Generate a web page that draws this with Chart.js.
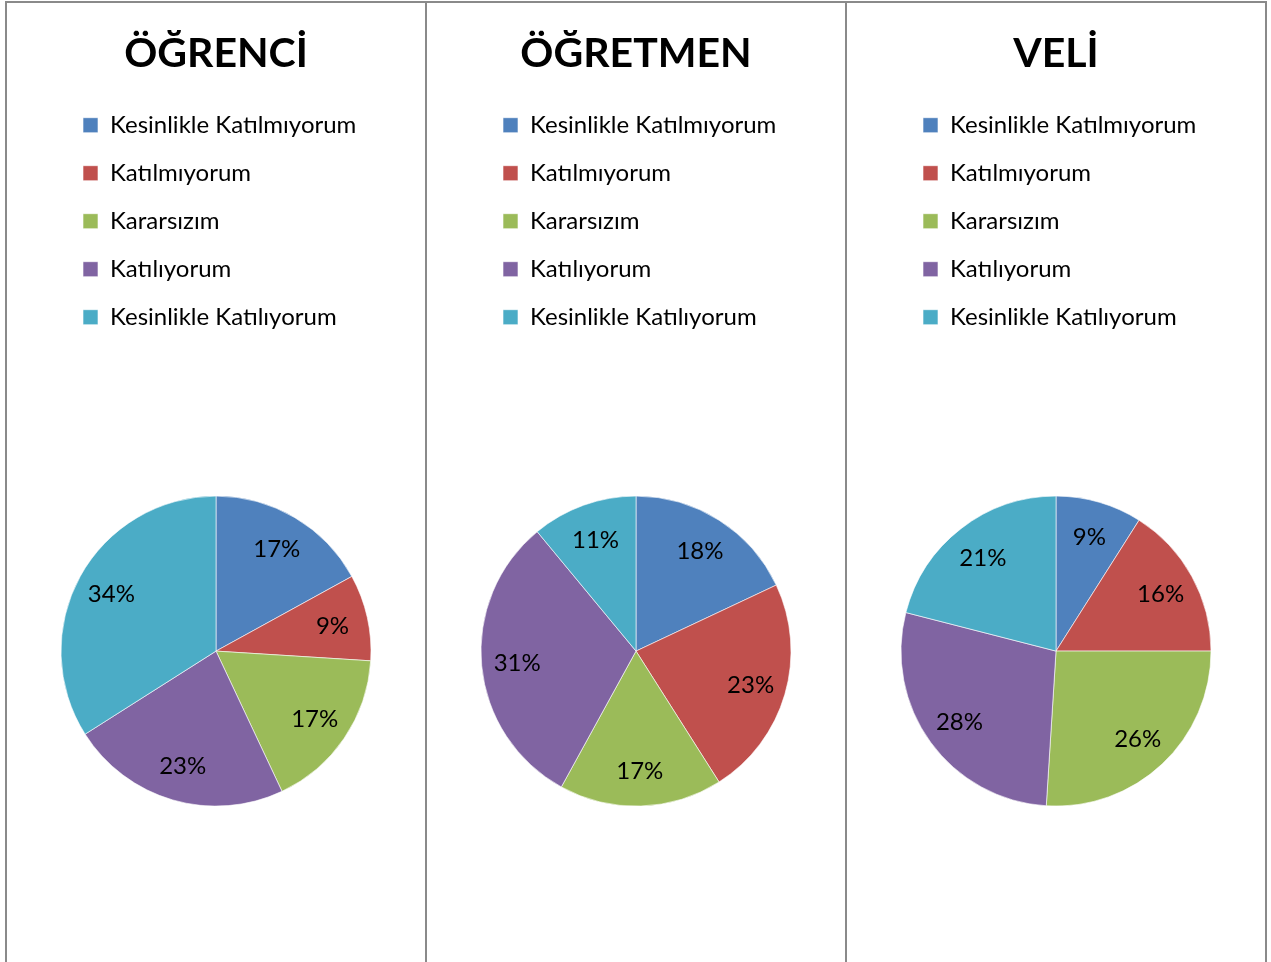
<!DOCTYPE html>
<html>
<head>
<meta charset="utf-8">
<script src="https://cdn.jsdelivr.net/npm/chart.js@4"></script>
<style>
  html, body { margin: 0; padding: 0; background: #fff; overflow: hidden; }
  body { width: 1271px; height: 962px; position: relative; }
  .panel {
    position: absolute; top: 1px; width: 418px; height: 1100px;
    border: 2px solid #8a8a8a; border-bottom: none;
  }
  .panel canvas { display: block; }
</style>
</head>
<body>
<div class="panel" style="left:5px"><canvas id="c0" width="418" height="960"></canvas></div>
<div class="panel" style="left:425px"><canvas id="c1" width="418" height="960"></canvas></div>
<div class="panel" style="left:845px"><canvas id="c2" width="418" height="960"></canvas></div>
<script>
// ======= data =======
const categories = ["Kesinlikle Katılmıyorum", "Katılmıyorum", "Kararsızım", "Katılıyorum", "Kesinlikle Katılıyorum"];
const groups = ["ÖĞRENCİ", "ÖĞRETMEN", "VELİ"];
const ogrenci = [17, 9, 17, 23, 34];
const ogretmen = [18, 23, 17, 31, 11];
const veli = [9, 16, 26, 28, 21];
const seriesList = [ogrenci, ogretmen, veli];

const colors = ["#4F81BD", "#C0504D", "#9BBB59", "#8064A2", "#4BACC6"];
const FONT = "Lato, Carlito, 'Open Sans', sans-serif";

// percent labels inside each slice
const pctLabels = {
  id: "pctLabels",
  afterDatasetsDraw(chart) {
    const ctx = chart.ctx;
    const meta = chart.getDatasetMeta(0);
    const data = chart.data.datasets[0].data;
    const total = data.reduce((a, b) => a + b, 0);
    ctx.save();
    ctx.font = "24px " + FONT;
    ctx.fillStyle = "#000";
    ctx.textAlign = "center";
    ctx.textBaseline = "middle";
    meta.data.forEach((arc, i) => {
      const p = arc.getProps(["x", "y", "startAngle", "endAngle", "outerRadius"], true);
      const mid = (p.startAngle + p.endAngle) / 2;
      const r = p.outerRadius * 0.77;
      const pct = Math.round(data[i] / total * 100) + "%";
      ctx.fillText(pct, p.x + Math.cos(mid) * r, p.y + Math.sin(mid) * r + 1);
    });
    ctx.restore();
  }
};

seriesList.forEach((values, k) => {
  new Chart(document.getElementById("c" + k), {
    type: "pie",
    data: {
      labels: categories,
      datasets: [{
        data: values,
        backgroundColor: colors,
        borderColor: "rgba(255,255,255,0.6)",
        borderWidth: 1,
        radius: 155,
      }],
    },
    options: {
      responsive: false,
      animation: false,
      layout: { padding: { left: 52, right: 52, top: 0, bottom: 0 } },
      plugins: {
        title: {
          display: true,
          text: groups[k],
          color: "#000",
          font: { family: FONT, size: 41, weight: "bold" },
          padding: { top: 26, bottom: 11 },
        },
        legend: {
          position: "top",
          align: "start",
          labels: {
            color: "#000",
            font: { family: FONT, size: 24 },
            boxWidth: 15,
            boxHeight: 15,
            padding: 24,
          },
        },
        tooltip: { enabled: false },
      },
    },
    plugins: [pctLabels],
  });
});
</script>
</body>
</html>
